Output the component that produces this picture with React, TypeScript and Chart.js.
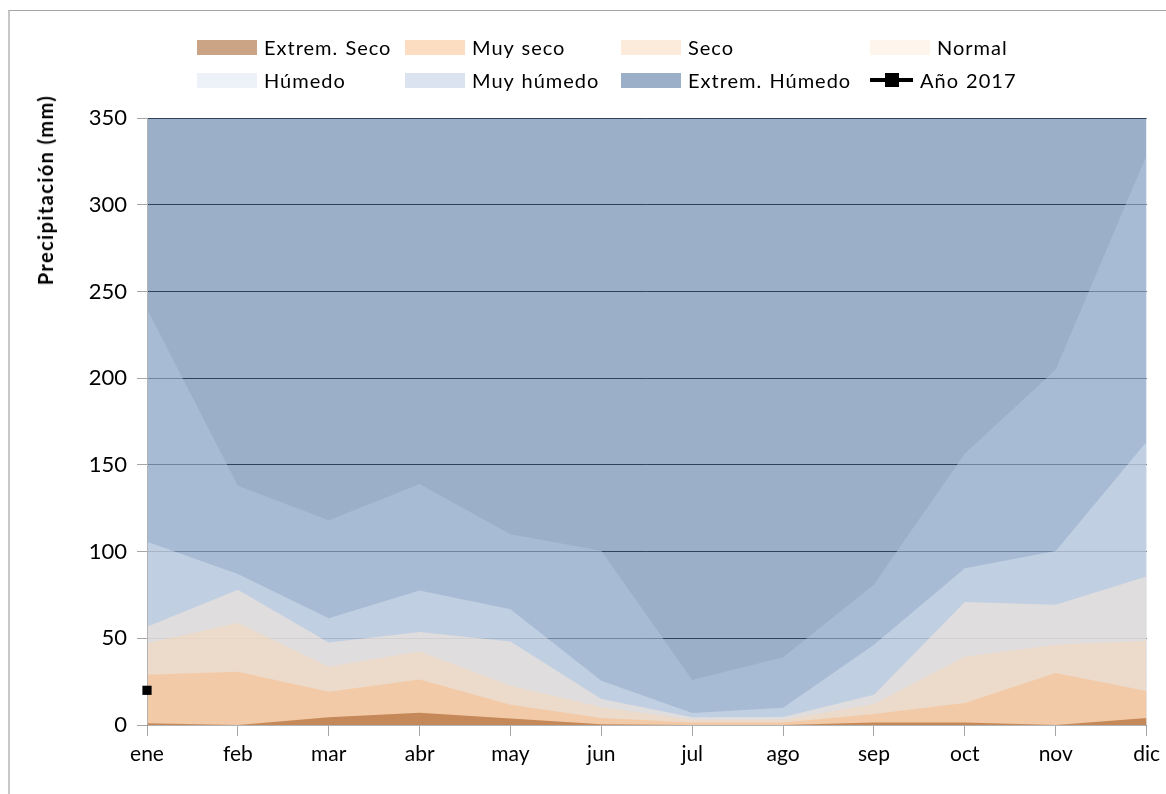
import React, { useEffect, useRef } from "react";
import { Chart, registerables } from "chart.js";

Chart.register(...registerables);

const months = ["ene", "feb", "mar", "abr", "may", "jun", "jul", "ago", "sep", "oct", "nov", "dic"];

// upper limit of each class (mm)
const extremSeco = [1, 0, 4.4, 7, 3.7, 0.5, 0, 0, 1.5, 1.5, 0, 4];
const muySeco = [29, 30.7, 19.2, 26.3, 11.7, 4, 1.5, 1.5, 6.3, 12.7, 30, 19.6];
const seco = [47.2, 58.8, 33.6, 42.4, 22.6, 10.2, 3, 3, 12.1, 39.4, 46.3, 48.6];
const normal = [56.6, 78, 47.6, 53.6, 48.2, 15, 4.4, 4.6, 17.5, 70.9, 69.3, 85.6];
const humedo = [105.6, 87, 61.6, 77.6, 66.8, 25.5, 6.9, 10, 46.3, 90.4, 100.4, 163.3];
const muyHumedo = [240, 138, 118, 139, 110, 100.5, 26, 39, 81, 156.5, 205, 328.5];
const extremHumedo = [350, 350, 350, 350, 350, 350, 350, 350, 350, 350, 350, 350];
const anio2017 = [20, null, null, null, null, null, null, null, null, null, null, null];

const seriesNames = ["Extrem. Seco", "Muy seco", "Seco", "Normal", "Húmedo", "Muy húmedo", "Extrem. Húmedo"];
const seriesData = [extremSeco, muySeco, seco, normal, humedo, muyHumedo, extremHumedo];
const seriesColors = [
  "rgba(152,73,12,0.5)",
  "rgba(251,188,133,0.5)",
  "rgba(250,215,184,0.5)",
  "rgba(254,235,217,0.5)",
  "rgba(219,227,241,0.5)",
  "rgba(181,199,223,0.5)",
  "rgba(55,95,147,0.5)",
];
const lineName = "Año 2017";
const yTitle = "Precipitación (mm)";
const yMin = 0;
const yMax = 350;
const yStep = 50;

const FONT = "Lato, 'Liberation Sans', sans-serif";

const legendPos = [
  { x: 197, y: 47 },
  { x: 405, y: 47 },
  { x: 621, y: 47 },
  { x: 870, y: 47 },
  { x: 197, y: 80 },
  { x: 405, y: 80 },
  { x: 621, y: 80 },
  { x: 870, y: 80 },
];

export default function App() {
  const ref = useRef<HTMLCanvasElement | null>(null);

  useEffect(() => {
    const canvas = ref.current;
    if (!canvas) return;

    const axisLines = {
      id: "axisLines",
      beforeDatasetDraw(chart: any, args: any) {
        if (args.index !== seriesNames.length) return;
        const { ctx, chartArea } = chart;
        ctx.save();
        ctx.strokeStyle = "#B3B3B3";
        ctx.lineWidth = 1;
        ctx.beginPath();
        const lx = Math.round(chartArea.left) + 0.5;
        const by = Math.round(chartArea.bottom) + 0.5;
        ctx.moveTo(lx, chartArea.top);
        ctx.lineTo(lx, by);
        ctx.lineTo(chartArea.right, by);
        ctx.stroke();
        ctx.restore();
      },
    };

    const datasets: any[] = seriesNames.map((name, i) => ({
      label: name,
      data: seriesData[i],
      backgroundColor: seriesColors[i],
      borderWidth: 0,
      borderColor: "rgba(0,0,0,0)",
      pointRadius: 0,
      pointHoverRadius: 0,
      fill: "origin",
      tension: 0,
    }));
    datasets.push({
      label: lineName,
      data: anio2017,
      borderColor: "#000",
      backgroundColor: "#000",
      borderWidth: 3,
      pointStyle: "rect",
      pointRadius: 6.5,
      pointBorderWidth: 0,
      fill: false,
      clip: false,
      order: -1,
    });

    const chart = new Chart(canvas, {
      type: "line",
      data: { labels: months, datasets },
      plugins: [axisLines],
      options: {
        responsive: false,
        animation: false,
        devicePixelRatio: 1,
        layout: { padding: { top: 118, right: 19, left: 0, bottom: 0 } },
        plugins: {
          legend: { display: false },
          tooltip: { enabled: false },
          title: { display: false },
        },
        scales: {
          x: {
            afterFit: (s: any) => {
              s.height = 69;
            },
            border: { display: false },
            grid: {
              drawOnChartArea: false,
              drawTicks: true,
              tickLength: 11,
              tickColor: "#A6A6A6",
            },
            ticks: {
              color: "#000",
              padding: 6,
              maxRotation: 0,
              font: { family: FONT, size: 21 },
            },
          },
          y: {
            min: yMin,
            max: yMax,
            afterFit: (s: any) => {
              s.width = 147;
            },
            border: { display: false },
            grid: {
              color: "#262626",
              lineWidth: 1,
              drawTicks: true,
              tickLength: 10,
              tickColor: "#A6A6A6",
            },
            ticks: {
              stepSize: yStep,
              color: "#000",
              padding: 10,
              font: { family: FONT, size: 22 },
            },
          },
        },
      },
    });
    return () => chart.destroy();
  }, []);

  const legendItems = [...seriesNames, lineName];

  return (
    <div
      style={{
        position: "fixed",
        left: 0,
        top: 0,
        width: 1166,
        height: 794,
        background: "#fff",
        overflow: "hidden",
        fontFamily: FONT,
      }}
    >
      <div
        style={{
          position: "absolute",
          left: 8,
          top: 10,
          width: 2000,
          height: 2000,
          borderTop: "1px solid #A6A6A6",
          borderLeft: "2px solid #C8C8C8",
        }}
      />
      <canvas
        ref={ref}
        width={1166}
        height={794}
        style={{ position: "absolute", left: 0, top: 0, width: 1166, height: 794 }}
      />
      {legendItems.map((name, i) => {
        const p = legendPos[i];
        const isLine = i === seriesNames.length;
        return (
          <div
            key={name}
            style={{
              position: "absolute",
              left: p.x,
              top: p.y - 14,
              height: 28,
              display: "flex",
              alignItems: "center",
              whiteSpace: "nowrap",
              fontSize: 20,
              letterSpacing: "1px",
              wordSpacing: "1px",
              color: "#000",
            }}
          >
            {isLine ? (
              <div style={{ position: "relative", width: 43, height: 16, marginRight: 7 }}>
                <div style={{ position: "absolute", left: 0, top: 6, width: 43, height: 4, background: "#000" }} />
                <div style={{ position: "absolute", left: 15, top: 1, width: 14, height: 14, background: "#000" }} />
              </div>
            ) : (
              <div style={{ width: 60, height: 15, background: seriesColors[i], marginRight: 7 }} />
            )}
            <span>{name}</span>
          </div>
        );
      })}
      <div
        style={{
          position: "absolute",
          left: 45,
          top: 190,
          transform: "translate(-50%, -50%) rotate(-90deg)",
          whiteSpace: "nowrap",
          fontWeight: "bold",
          fontSize: 20,
          letterSpacing: "1.4px",
          color: "#000",
        }}
      >
        {yTitle}
      </div>
    </div>
  );
}
